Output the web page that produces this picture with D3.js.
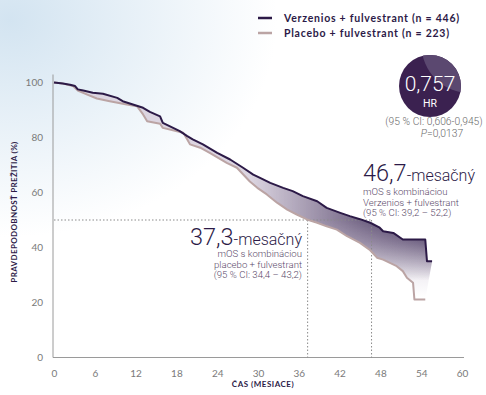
<!DOCTYPE html>
<html><head><meta charset="utf-8">
<script src="https://cdn.jsdelivr.net/npm/d3@7"></script>
<style>body{margin:0;background:#fff;} svg{display:block;}</style>
</head><body><svg id="c" width="486" height="395"></svg>
<script>
// ---- data ----
const verzTime = [0,1.3,2.35,3.1,3.5,4.3,5.7,7.2,9.3,10.1,11.6,13.1,14.1,15.6,16.0,18.5,19.6,20.4,21.9,24.0,25.9,27.8,29.3,30.3,31.8,33.7,35.1,36.6,38.7,40.1,42.1,43.5,45.0,46.5,47.9,48.4,49.9,51.3,54.6,54.85,55.6];
const verzSurv = [100,99.6,99.2,98.7,97.5,97.1,96.3,95.9,94.4,93.2,92.0,90.8,89.3,87.7,85.3,82.3,80.5,79.3,77.5,74.4,72.0,69.0,66.5,65.3,63.5,61.7,60.5,58.7,56.8,54.4,52.6,51.4,50.3,49.0,47.2,45.9,45.3,42.9,42.9,35.0,35.0];
const placTime = [0,1.3,2.8,3.5,4.9,6.3,8.2,10.7,12.2,13.1,13.7,15.6,16.0,18.1,19.0,19.6,20.0,21.5,22.9,25.4,26.9,28.8,29.9,31.3,32.8,34.3,35.7,37.2,38.7,40.1,41.6,43.1,45.0,46.5,47.5,48.4,49.4,50.4,51.3,51.9,52.8,53.0,54.6];
const placSurv = [100,99.6,98.7,97.1,95.6,94.2,93.2,92.0,91.4,88.4,85.9,85.0,83.5,82.3,81.7,79.3,77.5,76.3,74.4,70.8,69.0,64.0,61.7,59.3,56.3,53.8,52.0,50.2,49.0,47.7,46.5,44.1,41.7,39.0,36.3,35.6,34.4,33.2,31.4,29.0,27.2,21.1,21.1];
const xTicks = [0,6,12,18,24,30,36,42,48,54,60];
const yTicks = [0,20,40,60,80,100];
const medians = [37.3, 46.7];
const medianLevel = 50;
const legendLabels = ["Verzenios + fulvestrant (n = 446)", "Placebo + fulvestrant (n = 223)"];
const hrValue = "0,757";

// ---- setup ----
const svg = d3.select("#c");
const W = 486, H = 395;
const x = d3.scaleLinear().domain([0,60]).range([54,462]);
const y = d3.scaleLinear().domain([0,100]).range([357.5,82.5]);
const dark = "#2c1a47", plac = "#bba4a4";
const defs = svg.append("defs");

// background
const bg = defs.append("radialGradient").attr("id","bg").attr("cx",0.02).attr("cy",0.05).attr("r",0.55);
bg.append("stop").attr("offset",0).attr("stop-color","#d3e4f1");
bg.append("stop").attr("offset",1).attr("stop-color","#ffffff");
svg.append("rect").attr("width",W).attr("height",H).attr("fill","url(#bg)");

// gradients for fill
const bgr = defs.append("linearGradient").attr("id","bgr").attr("gradientUnits","userSpaceOnUse")
  .attr("x1",0).attr("x2",0).attr("y1",y(42)).attr("y2",y(22));
bgr.append("stop").attr("offset",0).attr("stop-color","#dcd5e1");
bgr.append("stop").attr("offset",1).attr("stop-color","#ffffff");
const hg = defs.append("linearGradient").attr("id","hg").attr("gradientUnits","userSpaceOnUse")
  .attr("x1",x(29)).attr("x2",x(55)).attr("y1",0).attr("y2",0);
hg.append("stop").attr("offset",0).attr("stop-color",dark).attr("stop-opacity",0);
hg.append("stop").attr("offset",1).attr("stop-color",dark).attr("stop-opacity",0.95);
const vg = defs.append("linearGradient").attr("id","vg").attr("gradientUnits","userSpaceOnUse")
  .attr("x1",0).attr("x2",0).attr("y1",y(50)).attr("y2",y(28));
vg.append("stop").attr("offset",0).attr("stop-color","#fff");
vg.append("stop").attr("offset",1).attr("stop-color","#000");
defs.append("mask").attr("id","vm").append("rect").attr("width",W).attr("height",H).attr("fill","url(#vg)");

const verzPts = verzTime.map((t,i)=>[t,verzSurv[i]]);
const placPts = placTime.map((t,i)=>[t,placSurv[i]]);
const line = d3.line().x(d=>x(d[0])).y(d=>y(d[1]));
const placRev = placPts.slice().reverse();
const areaPath = line(verzPts) + "L" + line(placRev).slice(1) + "Z";

// axes lines
const g = svg.append("g");
g.append("line").attr("x1",x(0)-1).attr("x2",x(0)-1).attr("y1",y(100)-8).attr("y2",y(0)).attr("stroke","#9a9a9a").attr("stroke-width",1);
g.append("line").attr("x1",x(0)-1).attr("x2",x(60)+2).attr("y1",y(0)).attr("y2",y(0)).attr("stroke","#9a9a9a").attr("stroke-width",1);

// tick labels via axis
const xAxis = d3.axisBottom(x).tickValues(xTicks).tickSize(0).tickPadding(12).tickFormat(d3.format("d"));
const xa = svg.append("g").attr("transform",`translate(0,${y(0)})`).call(xAxis);
xa.select(".domain").remove();
xa.selectAll("text").attr("font-family","Lato").attr("font-size",10).attr("fill","#7a7a7a");
const yAxis = d3.axisLeft(y).tickValues(yTicks).tickSize(0).tickPadding(11).tickFormat(d3.format("d"));
const ya = svg.append("g").attr("transform",`translate(${x(0)},0)`).call(yAxis);
ya.select(".domain").remove();
ya.selectAll("text").attr("font-family","Lato").attr("font-size",10).attr("fill","#7a7a7a");

// fill
svg.append("path").attr("d",areaPath).attr("fill","url(#bgr)");
svg.append("path").attr("d",areaPath).attr("fill","url(#hg)").attr("mask","url(#vm)");

// dotted median lines
const dot = svg.append("g").attr("stroke","#8a8a8a").attr("stroke-width",1).attr("stroke-dasharray","1.5,2");
dot.append("line").attr("x1",x(0)).attr("x2",x(d3.max(medians))).attr("y1",y(medianLevel)).attr("y2",y(medianLevel));
medians.forEach(m=>dot.append("line").attr("x1",x(m)).attr("x2",x(m)).attr("y1",y(medianLevel)).attr("y2",y(0)));

// curves
svg.append("path").attr("d",line(placPts)).attr("fill","none").attr("stroke",plac).attr("stroke-width",2).attr("stroke-linejoin","round");
svg.append("path").attr("d",line(verzPts)).attr("fill","none").attr("stroke",dark).attr("stroke-width",2).attr("stroke-linejoin","round");

// axis titles
svg.append("text").attr("transform",`translate(17,212) rotate(-90)`).attr("text-anchor","middle")
  .attr("font-family","Lato").attr("font-weight",700).attr("font-size",8).style("letter-spacing","0.35px").attr("fill",dark).text("PRAVDEPODOBNOSŤ PREŽITIA (%)");
svg.append("text").attr("x",263).attr("y",387).attr("text-anchor","middle")
  .attr("font-family","Lato").attr("font-weight",700).attr("font-size",8).style("letter-spacing","0.5px").attr("fill",dark).text("ČAS (MESIACE)");

// legend
const lg = svg.append("g");
[dark,plac].forEach((c,i)=>{
  lg.append("line").attr("x1",258).attr("x2",272).attr("y1",18+i*15).attr("y2",18+i*15).attr("stroke",c).attr("stroke-width",2.5);
  lg.append("text").attr("x",284).attr("y",22+i*15).attr("font-family","Lato").attr("font-weight",700).attr("font-size",10.5)
    .style("letter-spacing","0.75px").attr("fill",dark).text(legendLabels[i]);
});

// HR circle
const cx=430, cy=86, r=31;
defs.append("clipPath").attr("id","cc").append("circle").attr("cx",cx).attr("cy",cy).attr("r",r);
svg.append("circle").attr("cx",cx).attr("cy",cy).attr("r",r).attr("fill","#3b2150");
svg.append("circle").attr("cx",cx+39.5).attr("cy",cy-41).attr("r",48).attr("fill","#5b4870").attr("clip-path","url(#cc)");
svg.append("text").attr("x",cx).attr("y",cy+5).attr("text-anchor","middle").attr("font-family","Roboto").attr("font-weight",300)
  .attr("font-size",21).attr("fill","#fff").text(hrValue);
svg.append("text").attr("x",cx).attr("y",cy+21).attr("text-anchor","middle").attr("font-family","Roboto")
  .attr("font-size",10.5).attr("fill","#fff").text("HR");

const gray = "#6b6b6b";
const ci = svg.append("text").attr("text-anchor","middle").attr("font-family","Roboto").attr("font-weight",300)
  .attr("font-size",10.3).attr("fill",gray);
ci.append("tspan").attr("x",434).attr("y",125).text("(95 % CI: 0,606-0,945)");
ci.append("tspan").attr("x",442).attr("y",137).attr("font-style","italic").text("P");
ci.append("tspan").text("=0,0137");

// median annotations
const ann = (xx, yy, anchor, big, first, lines) => {
  const t = svg.append("text").attr("text-anchor",anchor).attr("font-family","Roboto").attr("font-weight",300).attr("fill",dark);
  t.append("tspan").attr("x",xx).attr("y",yy).attr("font-size",23.5).text(big);
  t.append("tspan").attr("font-size",16).text("-mesačný");
  lines.forEach((l,i)=>t.append("tspan").attr("x",xx).attr("y",yy+first+i*10.6)
    .attr("font-size",9.6).attr("fill","#5a4a6a").text(l));
};
ann(363,181,"start","46,7",14,["mOS s kombináciou","Verzenios + fulvestrant","(95 % CI: 39,2 – 52,2)"]);
ann(302,245,"end","37,3",12,["mOS s kombináciou","placebo + fulvestrant","(95 % CI: 34,4 – 43,2)"]);
</script></body></html>
